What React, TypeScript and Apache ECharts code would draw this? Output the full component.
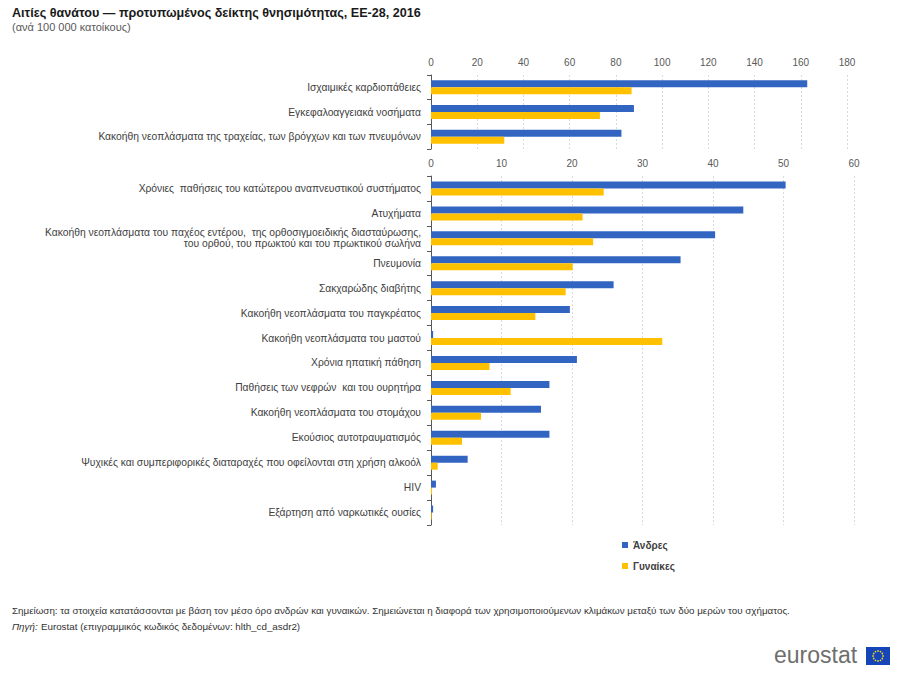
import React, { useEffect, useRef } from "react";
import * as echarts from "echarts";

const topCategories = [
  "Ισχαιμικές καρδιοπάθειες",
  "Εγκεφαλοαγγειακά νοσήματα",
  "Κακοήθη νεοπλάσματα της τραχείας, των βρόγχων και των πνευμόνων",
];
const topMen = [162.8, 87.8, 82.4];
const topWomen = [86.8, 73.1, 31.7];

const bottomCategories = [
  "Χρόνιες  παθήσεις του κατώτερου αναπνευστικού συστήματος",
  "Ατυχήματα",
  "Κακοήθη νεοπλάσματα του παχέος εντέρου,  της ορθοσιγμοειδικής διασταύρωσης,\nτου ορθού, του πρωκτού και του πρωκτικού σωλήνα",
  "Πνευμονία",
  "Σακχαρώδης διαβήτης",
  "Κακοήθη νεοπλάσματα του παγκρέατος",
  "Κακοήθη νεοπλάσματα του μαστού",
  "Χρόνια ηπατική πάθηση",
  "Παθήσεις των νεφρών  και του ουρητήρα",
  "Κακοήθη νεοπλάσματα του στομάχου",
  "Εκούσιος αυτοτραυματισμός",
  "Ψυχικές και συμπεριφορικές διαταραχές που οφείλονται στη χρήση αλκοόλ",
  "HIV",
  "Εξάρτηση από ναρκωτικές ουσίες",
];
const bottomMen = [50.3, 44.3, 40.3, 35.4, 25.9, 19.7, 0.3, 20.7, 16.8, 15.6, 16.8, 5.2, 0.7, 0.3];
const bottomWomen = [24.5, 21.5, 23.0, 20.1, 19.1, 14.8, 32.8, 8.3, 11.3, 7.1, 4.4, 0.95, 0.15, 0.1];

const topTicks = { min: 0, max: 180, interval: 20 };
const bottomTicks = { min: 0, max: 60, interval: 10 };

const seriesNames = ["Άνδρες", "Γυναίκες"];
const colors = ["#3264C2", "#FFC000"];

const FONT = "'Liberation Sans', Arial, sans-serif";

export default function App() {
  const ref = useRef<HTMLDivElement>(null);
  useEffect(() => {
    if (!ref.current) return;
    const chart = echarts.init(ref.current, undefined, { renderer: "svg" });

    const valueAxis = (gridIndex: number, t: { min: number; max: number; interval: number }) => ({
      type: "value",
      gridIndex,
      position: "top",
      min: t.min,
      max: t.max,
      interval: t.interval,
      axisLine: { show: false },
      axisTick: { show: false },
      axisLabel: { color: "#595959", fontSize: 10, fontFamily: FONT, margin: 8 },
      splitLine: { show: true, lineStyle: { color: "#dadada", type: [2, 2], width: 1 } },
    });
    const catAxis = (gridIndex: number, data: string[]) => ({
      type: "category",
      gridIndex,
      inverse: true,
      data,
      axisLine: { show: true, lineStyle: { color: "#595959", width: 1 } },
      axisTick: { show: true, length: 4, lineStyle: { color: "#595959" } },
      axisLabel: {
        color: "#404040",
        fontSize: 10.3,
        fontFamily: FONT,
        margin: 10,
        align: "right",
        lineHeight: 11,
      },
    });

    const flagStars: any[] = [];
    for (let i = 0; i < 12; i++) {
      const a = (i / 12) * Math.PI * 2;
      flagStars.push({
        type: "circle",
        shape: { cx: 878 + Math.cos(a) * 5, cy: 656 + Math.sin(a) * 5, r: 0.8 },
        style: { fill: "#FFD617" },
      });
    }

    const barCommon = { barWidth: 7, barGap: "0%" };

    chart.setOption({
      animation: false,
      backgroundColor: "#ffffff",
      textStyle: { fontFamily: FONT },
      grid: [
        { left: 431, right: 65, top: 75, height: 74, containLabel: false },
        { left: 431, right: 58, top: 176, height: 349, containLabel: false },
      ],
      xAxis: [valueAxis(0, topTicks), valueAxis(1, bottomTicks)],
      yAxis: [catAxis(0, topCategories), catAxis(1, bottomCategories)],
      legend: {
        data: seriesNames,
        orient: "vertical",
        left: 617,
        top: 535,
        itemWidth: 6,
        itemHeight: 6,
        itemGap: 11,
        icon: "rect",
        textStyle: { color: "#404040", fontSize: 10, fontWeight: "bold", fontFamily: FONT },
      },
      series: [
        { name: seriesNames[0], type: "bar", xAxisIndex: 0, yAxisIndex: 0, data: topMen, itemStyle: { color: colors[0] }, ...barCommon },
        { name: seriesNames[1], type: "bar", xAxisIndex: 0, yAxisIndex: 0, data: topWomen, itemStyle: { color: colors[1] }, ...barCommon },
        { name: seriesNames[0], type: "bar", xAxisIndex: 1, yAxisIndex: 1, data: bottomMen, itemStyle: { color: colors[0] }, ...barCommon },
        { name: seriesNames[1], type: "bar", xAxisIndex: 1, yAxisIndex: 1, data: bottomWomen, itemStyle: { color: colors[1] }, ...barCommon },
      ],
      graphic: [
        {
          type: "text",
          left: 12,
          top: 6,
          style: {
            text: "Αιτίες θανάτου — προτυπωμένος δείκτης θνησιμότητας, ΕΕ-28, 2016",
            fontSize: 12.6,
            fontWeight: "bold",
            fill: "#1a1a1a",
            fontFamily: FONT,
          },
        },
        {
          type: "text",
          left: 12,
          top: 21,
          style: { text: "(ανά 100 000 κατοίκους)", fontSize: 11, fill: "#595959", fontFamily: FONT },
        },
        {
          type: "text",
          left: 12,
          top: 605,
          style: {
            text: "Σημείωση: τα στοιχεία κατατάσσονται με βάση τον μέσο όρο ανδρών και γυναικών. Σημειώνεται η διαφορά των χρησιμοποιούμενων κλιμάκων μεταξύ των δύο μερών του σχήματος.",
            fontSize: 9.8,
            fill: "#333333",
            fontFamily: FONT,
          },
        },
        {
          type: "text",
          left: 12,
          top: 620,
          style: {
            rich: {
              i: { fontStyle: "italic", fontSize: 9.8, fill: "#333333", fontFamily: FONT },
              n: { fontSize: 9.8, fill: "#333333", fontFamily: FONT },
            },
            text: "{i|Πηγή:} {n|Eurostat (επιγραμμικός κωδικός δεδομένων: hlth_cd_asdr2)}",
          },
        },
        {
          type: "text",
          left: 774,
          top: 643,
          style: { text: "eurostat", fontSize: 23, fill: "#6e6e6e", fontFamily: FONT },
        },
        {
          type: "rect",
          shape: { x: 866, y: 647, width: 24, height: 18 },
          style: { fill: "#1446B8" },
        },
        ...flagStars,
      ],
    });
    return () => chart.dispose();
  }, []);
  return (
    <div
      ref={ref}
      style={{ position: "fixed", left: 0, top: 0, width: 912, height: 680 }}
    />
  );
}
